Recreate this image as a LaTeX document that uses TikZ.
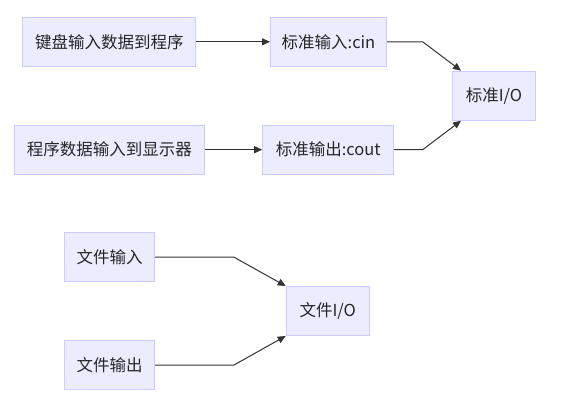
\documentclass[tikz,border=0pt]{standalone}
\usepackage{fontspec}
\setmainfont{Noto Sans CJK SC}
\usetikzlibrary{arrows.meta,calc}
\definecolor{boxfill}{HTML}{ECECFF}
\definecolor{boxline}{HTML}{CCCCFF}
\definecolor{edgecol}{HTML}{333333}
\tikzset{
  box/.style={draw=boxline, fill=boxfill, line width=1pt, inner sep=0pt, minimum height=49pt, font=\fontsize{16.5}{19}\selectfont, text=black!85},
  link/.style={draw=edgecol, line width=1pt, -{Triangle[length=8pt,width=7pt]}}
}
\begin{document}
\begin{tikzpicture}[x=1pt,y=-1pt]
\useasboundingbox (0,0) rectangle (564,412);
\node[box, minimum width=173pt] (k) at (109.3,41.8) {键盘输入数据到程序};
\node[box, minimum width=116pt] (cin) at (328.5,41.8) {标准输入:cin};
\node[box, minimum width=83pt] (sio) at (494,95.7) {标准I/O};
\node[box, minimum width=190pt] (p) at (109.3,149.7) {程序数据输入到显示器};
\node[box, minimum width=131pt] (cout) at (328.2,149.7) {标准输出:cout};
\node[box, minimum width=90pt] (fi) at (109.5,257.2) {文件输入};
\node[box, minimum width=83pt] (fio) at (327.7,311) {文件I/O};
\node[box, minimum width=90pt] (fo) at (109.5,365) {文件输出};
\coordinate (sioA) at ($(sio.north west)+(9,0)$);
\coordinate (sioB) at ($(sio.south west)+(9,0)$);
\draw[link] (k.east) -- (cin.west);
\draw[link] (p.east) -- (cout.west);
\draw[link] (cin.east) -- (422.7,41.8) -- (sioA);
\draw[link] (cout.east) -- (422.7,149.7) -- (sioB);
\draw[link] (fi.east) -- (234,257.2) -- (fio.north west);
\draw[link] (fo.east) -- (234,365) -- (fio.south west);
\end{tikzpicture}
\end{document}
